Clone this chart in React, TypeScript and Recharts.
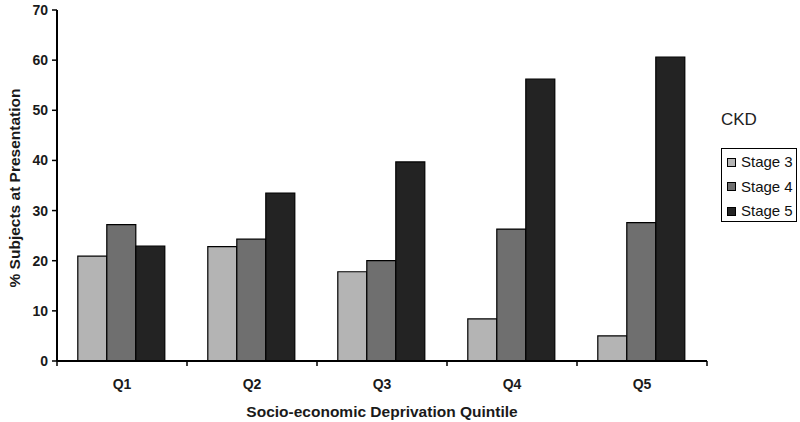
import { BarChart, Bar, XAxis, YAxis } from 'recharts';

const quintiles = ['Q1', 'Q2', 'Q3', 'Q4', 'Q5'];
const stage3 = [20.9, 22.8, 17.8, 8.4, 5.0];
const stage4 = [27.2, 24.3, 20.0, 26.3, 27.6];
const stage5 = [22.9, 33.5, 39.7, 56.2, 60.6];
const yTicks = [0, 10, 20, 30, 40, 50, 60, 70];

const series = [
    { key: 'stage3', name: 'Stage 3', color: '#b4b4b4' },
    { key: 'stage4', name: 'Stage 4', color: '#6f6f6f' },
    { key: 'stage5', name: 'Stage 5', color: '#232323' },
];

const data = quintiles.map((q, i) => ({
    name: q,
    stage3: stage3[i],
    stage4: stage4[i],
    stage5: stage5[i],
}));

const W = 800;
const H = 422;
const PLOT_LEFT = 57;
const PLOT_RIGHT = 707;
const HALF_BAND = (PLOT_RIGHT - PLOT_LEFT) / quintiles.length / 2;
const FONT = '"Liberation Sans", Arial, sans-serif';

// category ticks sit on band boundaries, labels in the middle
const QuintileTick = (props: any) => {
    const { x, y, payload, index } = props;
    const last = index === quintiles.length - 1;
    return (
        <g>
            <line x1={x - HALF_BAND} y1={y} x2={x - HALF_BAND} y2={y + 5} stroke="#000" strokeWidth={1.5} />
            {last && <line x1={x + HALF_BAND} y1={y} x2={x + HALF_BAND} y2={y + 5} stroke="#000" strokeWidth={1.5} />}
            <text x={x} y={y + 28} textAnchor="middle" fontFamily={FONT} fontWeight="bold" fontSize={14} fill="#1a1a1a">
                {payload.value}
            </text>
        </g>
    );
};

export default function App() {
    return (
        <div style={{ position: 'absolute', left: 0, top: 0, width: W, height: H, background: '#fff' }}>
            <BarChart
                width={W}
                height={H}
                data={data}
                margin={{ top: 10, right: W - PLOT_RIGHT, bottom: 0, left: 0 }}
                barCategoryGap="16%"
                barGap={0}
            >
                <XAxis
                    dataKey="name"
                    height={61}
                    axisLine={{ stroke: '#000', strokeWidth: 2 }}
                    tickLine={false}
                    tickSize={0}
                    tickMargin={0}
                    tick={<QuintileTick />}
                    interval={0}
                    label={{
                        content: () => (
                            <text x={382} y={417} textAnchor="middle" fontFamily={FONT} fontWeight="bold" fontSize={15.5} fill="#1a1a1a">
                                Socio-economic Deprivation Quintile
                            </text>
                        ),
                    }}
                />
                <YAxis
                    width={PLOT_LEFT}
                    domain={[0, 70]}
                    ticks={yTicks}
                    interval={0}
                    axisLine={{ stroke: '#000', strokeWidth: 2 }}
                    tickLine={{ stroke: '#000', strokeWidth: 1.5 }}
                    tickSize={5}
                    tickMargin={4}
                    tick={{ fontFamily: FONT, fontWeight: 'bold', fontSize: 14, fill: '#1a1a1a' }}
                    label={{
                        content: () => (
                            <text
                                x={20}
                                y={188}
                                transform="rotate(-90 20 188)"
                                textAnchor="middle"
                                fontFamily={FONT}
                                fontWeight="bold"
                                fontSize={15.5}
                                fill="#1a1a1a"
                            >
                                % Subjects at Presentation
                            </text>
                        ),
                    }}
                />
                {series.map((s) => (
                    <Bar key={s.key} dataKey={s.key} name={s.name} fill={s.color} stroke="#000" strokeWidth={1.2} isAnimationActive={false} />
                ))}
            </BarChart>
            <div style={{ position: 'absolute', left: 721, top: 110, fontFamily: FONT, fontSize: 17, color: '#222', lineHeight: '20px' }}>
                CKD
            </div>
            <div
                style={{
                    position: 'absolute',
                    left: 721,
                    top: 148,
                    width: 74,
                    height: 72,
                    border: '1.5px solid #000',
                    fontFamily: FONT,
                    fontSize: 15,
                    color: '#111',
                }}
            >
                {series.map((s, i) => (
                    <div key={s.key} style={{ position: 'absolute', left: 5, top: 4 + i * 24.5, height: 18, display: 'flex', alignItems: 'center' }}>
                        <span style={{ width: 7, height: 7, background: s.color, border: '1px solid #000', marginRight: 5 }} />
                        <span style={{ lineHeight: '18px' }}>{s.name}</span>
                    </div>
                ))}
            </div>
        </div>
    );
}
